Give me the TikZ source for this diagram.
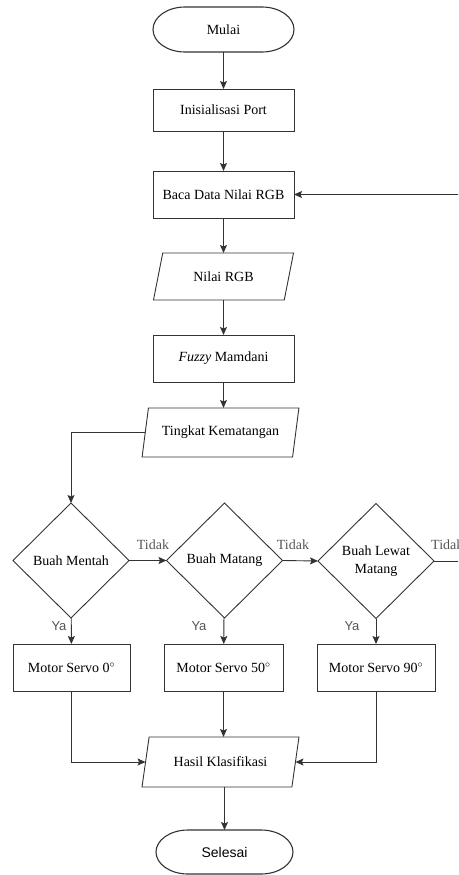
\documentclass[tikz,border=0pt]{standalone}
\usepackage{fontspec}
\setmainfont{Liberation Serif}
\setsansfont{Liberation Sans}
\usetikzlibrary{shapes.geometric,arrows.meta,calc}
\definecolor{ln}{HTML}{333333}
\definecolor{lbl}{HTML}{555555}
\tikzset{
  base/.style={draw=ln, line width=0.9pt, font=\fontsize{14}{17.5}\selectfont, align=center, inner sep=0pt, outer sep=0pt},
  terminal/.style={rectangle, font=\fontsize{14}{17.5}\selectfont, inner sep=0pt, outer sep=0pt, minimum width=#1, minimum height=45pt},
  termline/.style={draw=ln, line width=1.1pt},
  procbox/.style={base, rectangle, minimum height=47pt, minimum width=#1},
  iobox/.style={base, trapezium, trapezium stretches=true, trapezium left angle=#1, trapezium right angle=180-#1},
  decision/.style={base, diamond, aspect=1.01, minimum width=116pt, minimum height=115pt},
  conn/.style={draw=ln, line width=0.9pt, -{Stealth[length=8pt,width=7pt,inset=1.5pt]}},
  tidaklbl/.style={text=lbl, font=\fontsize{14}{16}\selectfont, inner sep=0pt},
  yalbl/.style={text=lbl, font=\sffamily\fontsize{13}{16}\selectfont, inner sep=0pt},
}
\begin{document}
\begin{tikzpicture}[x=1pt,y=-1pt]
\useasboundingbox (0,0) rectangle (458,875);
\clip (0,0) rectangle (458,875);

% terminals (text nodes, outline drawn below)
\node[terminal=141pt] (mulai) at (223.5,29.5) {Mulai};
\draw[termline] ($(mulai.north west)+(32,0)$) -- ($(mulai.north east)+(-32,0)$)
  arc[start angle=-90, end angle=90, x radius=32, y radius=22.5]
  -- ($(mulai.south west)+(32,0)$)
  arc[start angle=90, end angle=270, x radius=32, y radius=22.5] -- cycle;

\node[procbox=141pt, minimum height=42pt] (init) at (223.5,110) {Inisialisasi Port};
\node[procbox=141pt] (baca) at (223.5,194.5) {Baca Data Nilai RGB};
\node[iobox=65, minimum width=141pt, minimum height=47pt] (nilai) at (223.5,276.5) {Nilai RGB};
\node[procbox=141pt] (fuzzy) at (223.5,358.5) {\textit{Fuzzy} Mamdani};
\node[iobox=68, minimum width=157pt, minimum height=49pt] (tingkat) at (220.5,432.5) {Tingkat Kematangan};

\node[decision] (d1) at (71,560.5) {Buah Mentah};
\node[decision] (d2) at (224.5,560.5) {Buah Matang};
\node[decision] (d3) at (376,561) {Buah Lewat\\Matang};

\node[procbox=117pt] (m1) at (71.5,667.5) {Motor Servo 0$^{\circ}$};
\node[procbox=119pt] (m2) at (223.5,667.5) {Motor Servo 50$^{\circ}$};
\node[procbox=118pt] (m3) at (376,667.5) {Motor Servo 90$^{\circ}$};

\node[iobox=65, minimum width=157pt, minimum height=50pt] (hasil) at (220.5,762) {Hasil Klasifikasi};

\node[terminal=137pt, minimum height=44pt, font=\sffamily\fontsize{14}{17}\selectfont] (selesai) at (224.5,852) {Selesai};
\draw[termline] ($(selesai.north west)+(32,0)$) -- ($(selesai.north east)+(-32,0)$)
  arc[start angle=-90, end angle=90, x radius=32, y radius=22]
  -- ($(selesai.south west)+(32,0)$)
  arc[start angle=90, end angle=270, x radius=32, y radius=22] -- cycle;

\coordinate (rt) at (470,561);
\coordinate (rb) at (470,194.5);

\draw[conn] (mulai) -- (init);
\draw[conn] (init) -- (baca);
\draw[conn] (baca) -- (nilai);
\draw[conn] (nilai) -- (fuzzy);
\draw[conn] (fuzzy.south) -- (fuzzy.south |- tingkat.north);
\draw[conn] (tingkat.west) -| (d1.north);
\draw[conn] (d1.east) -- (d2.west);
\draw[conn] (d2.east) -- (d3.west);
\draw[conn] (d3.east) -- (rt) -- (rb) -- (baca.east);
\draw[conn] (d1) -- (m1);
\draw[conn] (d2) -- (m2);
\draw[conn] (d3) -- (m3);
\draw[conn] (m1.south) |- (hasil.west);
\draw[conn] (m2.south) -- (m2.south |- hasil.north);
\draw[conn] (m3.south) |- (hasil.east);
\draw[conn] (selesai.north |- hasil.south) -- (selesai.north);

\node[tidaklbl] (t1) at (153,545) {Tidak};
\node[tidaklbl] (t2) at (293,545) {Tidak};
\node[tidaklbl, anchor=west] (t3) at (431,545) {Tidak};
\node[yalbl] (y1) at (59,626) {Ya};
\node[yalbl] (y2) at (199,626) {Ya};
\node[yalbl] (y3) at (352,626) {Ya};
\end{tikzpicture}
\end{document}
